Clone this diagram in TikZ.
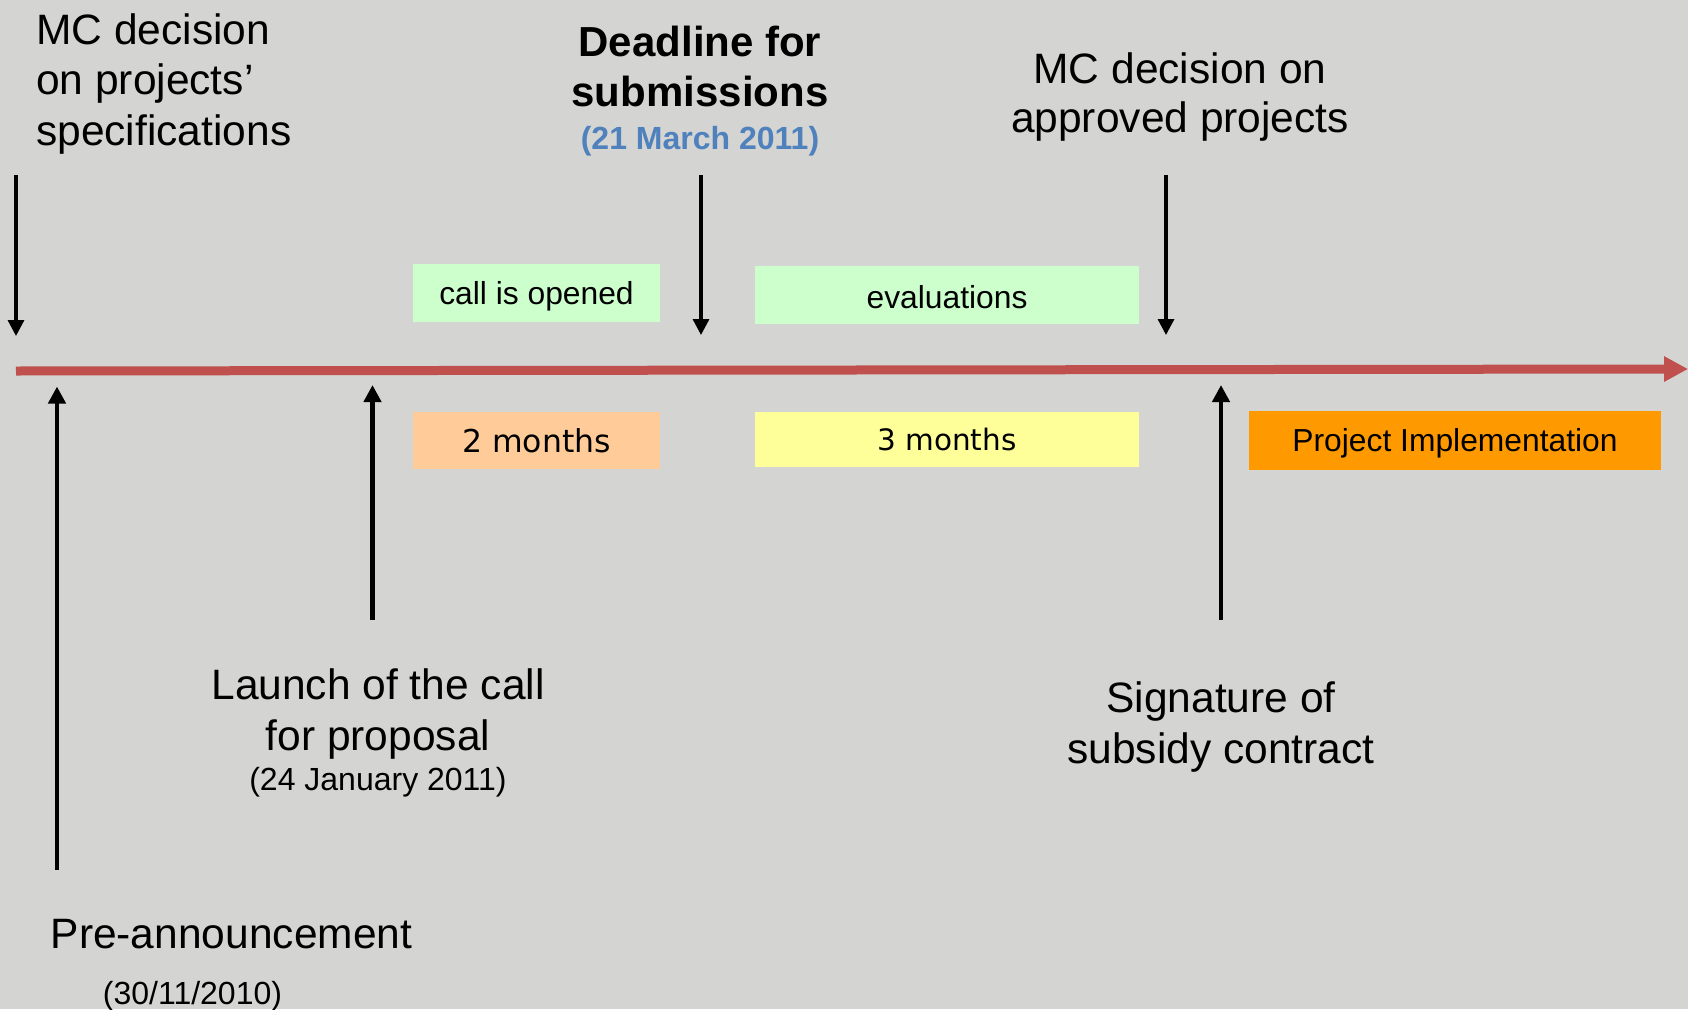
\documentclass[tikz,border=0pt]{standalone}
\usepackage{fontspec}
\setmainfont{Liberation Sans}
\newfontfamily\verd{DejaVu Sans}
\usetikzlibrary{arrows.meta}
\definecolor{bg}{RGB}{212,212,210}
\definecolor{tlred}{RGB}{192,80,77}
\definecolor{lgreen}{RGB}{204,255,204}
\definecolor{peach}{RGB}{255,204,153}
\definecolor{lyellow}{RGB}{255,255,153}
\definecolor{orng}{RGB}{255,153,0}
\definecolor{dblue}{RGB}{79,129,189}
\tikzset{
  bigtxt/.style={font=\fontsize{42.5}{51}\selectfont, inner sep=0pt, anchor=base},
  bigleft/.style={bigtxt, anchor=base west},
  boldtxt/.style={font=\fontsize{42}{50}\selectfont\bfseries, inner sep=0pt, anchor=base},
  datetxt/.style={font=\fontsize{32}{38}\selectfont, inner sep=0pt, anchor=base},
  boxnode/.style={inner sep=0pt, font=\fontsize{31.8}{37}\selectfont},
  downarrow/.style={line width=3.3pt, -{Triangle[length=16pt,width=16pt]}},
  uparrow/.style={line width=4.5pt, -{Triangle[length=17pt,width=17pt]}},
  timeline/.style={draw=tlred, line width=9pt, -{Triangle[length=24pt,width=24pt]}, tlred}
}
\begin{document}
\begin{tikzpicture}[x=1pt,y=-1pt]
\fill[bg] (0,0) rectangle (1688,1009);
\useasboundingbox (0,0) rectangle (1688,1009);

% timeline
\coordinate (tlstart) at (16,371);
\coordinate (tlend) at (1688,369);
\draw[timeline] (tlstart) -- (tlend);

% top texts
\node[bigleft] (mca) at (36,44) {MC decision};
\node[bigleft] (mcb) at (36,94.5) {on projects’};
\node[bigleft] (mcc) at (36,145) {specifications};

\node[boldtxt] (dla) at (700,56.7) {Deadline for};
\node[boldtxt] (dlb) at (700,106.7) {submissions};
\node[datetxt, font=\fontsize{32}{38}\selectfont\bfseries, text=dblue] (dlc) at (700,149) {(21 March 2011)};

\node[bigtxt] (apa) at (1180,83) {MC decision on};
\node[bigtxt] (apb) at (1180,132.5) {approved projects};

% bottom texts
\node[bigtxt] (lca) at (378,699.3) {Launch of the call};
\node[bigtxt] (lcb) at (378,750) {for proposal};
\node[datetxt] (lcc) at (378,790.5) {(24 January 2011)};

\node[bigtxt] (sga) at (1221,712.8) {Signature of};
\node[bigtxt] (sgb) at (1221,763) {subsidy contract};

\node[bigleft] (pra) at (50.5,948.3) {Pre-announcement};
\node[datetxt] (prb) at (192.5,1004.5) {(30/11/2010)};

% boxes
\node[boxnode, fill=lgreen, minimum width=247pt, minimum height=57.7pt] (callbox) at (536.5,292.9) {};
\node[boxnode, anchor=center, yshift=-3.2pt] (calltxt) at (callbox.center) {call is opened};
\node[boxnode, fill=lgreen, minimum width=384pt, minimum height=57.7pt] (evalbox) at (947,294.9) {};
\node[boxnode, anchor=center, yshift=-2.5pt] (evaltxt) at (evalbox.center) {evaluations};
\node[boxnode, fill=peach, minimum width=247pt, minimum height=57.3pt, font=\verd\fontsize{31.5}{37}\selectfont] (twobox) at (536.5,440.4) {2 months};
\node[boxnode, fill=lyellow, minimum width=384pt, minimum height=54.7pt, font=\verd\fontsize{29.5}{35}\selectfont] (threebox) at (947,439.4) {3 months};
\node[boxnode, fill=orng, minimum width=411.4pt, minimum height=58.7pt] (implbox) at (1455,440.4) {};
\node[boxnode, anchor=center, yshift=-3.2pt] (impltxt) at (implbox.center) {Project Implementation};

% down arrows
\coordinate (d1s) at (16,175);   \coordinate (d1e) at (16,336);
\coordinate (d2s) at (701,175);  \coordinate (d2e) at (701,335);
\coordinate (d3s) at (1166,175); \coordinate (d3e) at (1166,335);
\draw[downarrow] (d1s) -- (d1e);
\draw[downarrow] (d2s) -- (d2e);
\draw[downarrow] (d3s) -- (d3e);

% up arrows
\coordinate (u1s) at (57,870);    \coordinate (u1e) at (57,386.5);
\coordinate (u2s) at (372.5,620); \coordinate (u2e) at (372.5,385);
\coordinate (u3s) at (1221,620);  \coordinate (u3e) at (1221,385);
\draw[uparrow] (u1s) -- (u1e);
\draw[uparrow] (u2s) -- (u2e);
\draw[uparrow] (u3s) -- (u3e);
\end{tikzpicture}
\end{document}
